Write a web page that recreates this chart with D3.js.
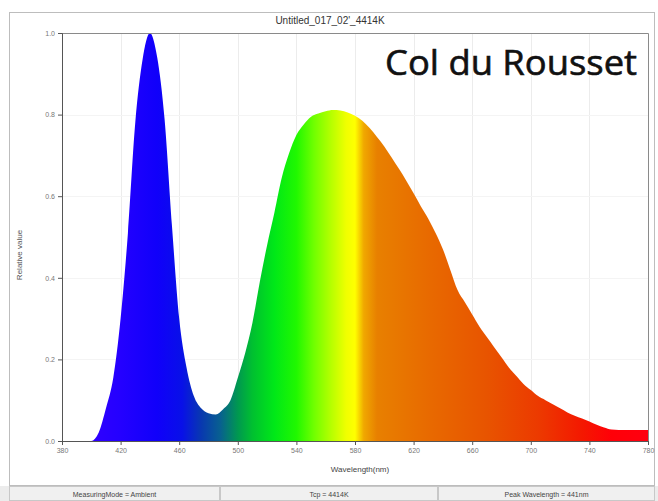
<!DOCTYPE html>
<html>
<head>
<meta charset="utf-8">
<style>
  body { margin: 0; background: #fff; }
  svg { display: block; }
</style>
</head>
<body>
<div id="graphic"></div>
<script src="https://d3js.org/d3.v7.min.js"></script>
<script>
// spectrum, 5 nm steps
var wavelengths = d3.range(380, 781, 5);
var relValues = [
  0, 0, 0, 0, 0, 0.02, 0.08, 0.155, 0.30, 0.51,             // 380-425
  0.78, 0.935, 1.0, 0.94, 0.79, 0.53, 0.30, 0.18, 0.11, 0.08, // 430-475
  0.068, 0.065, 0.078, 0.10, 0.155, 0.215, 0.29, 0.39, 0.48, 0.56, // 480-525
  0.645, 0.705, 0.75, 0.776, 0.795, 0.803, 0.808, 0.811, 0.81, 0.805, // 530-575
  0.797, 0.785, 0.767, 0.745, 0.722, 0.695, 0.667, 0.638, 0.607, 0.575, // 580-625
  0.545, 0.51, 0.47, 0.42, 0.37, 0.34, 0.31, 0.28, 0.255, 0.23, // 630-675
  0.205, 0.18, 0.16, 0.14, 0.125, 0.11, 0.10, 0.09, 0.08, 0.07, // 680-725
  0.062, 0.055, 0.048, 0.04, 0.033, 0.028, 0.027, 0.027, 0.027, 0.027, // 730-775
  0.027 // 780
];
var xTicks = [380, 420, 460, 500, 540, 580, 620, 660, 700, 740, 780];
var yTicks = [0, 0.2, 0.4, 0.6, 0.8, 1.0];
var statusTexts = ["MeasuringMode = Ambient", "Tcp = 4414K", "Peak Wavelength = 441nm"];

// colour under the curve by wavelength
var colorStops = [
  [380, "#3c00ff"], [420, "#2400ff"], [445, "#1000fa"], [462, "#0810e8"],
  [475, "#0838b0"], [488, "#086090"], [500, "#009850"], [510, "#00c030"],
  [525, "#00e818"], [540, "#20f800"], [552, "#70ff00"], [564, "#b8ff00"],
  [574, "#f0ff00"], [580, "#ffff00"], [586, "#f0a800"], [595, "#e88000"],
  [630, "#e86a00"], [670, "#e85400"], [705, "#ec3a00"], [735, "#f41800"],
  [755, "#ff0008"], [780, "#ff0010"]
];

var W = 658, H = 501;

var svg = d3.select("#graphic").append("svg")
  .attr("width", W).attr("height", H)
  .style("font-family", "'Liberation Sans', Arial, sans-serif");

// outer frame and title
svg.append("rect").attr("x", 9.5).attr("y", 12.5).attr("width", 645).attr("height", 473)
  .attr("fill", "#fff").attr("stroke", "#bdbdbd");
svg.append("text").attr("x", 330).attr("y", 24).attr("text-anchor", "middle")
  .attr("font-size", 10).attr("fill", "#333").text("Untitled_017_02'_4414K");

var x = d3.scaleLinear().domain([380, 780]).range([62, 648]);
var y = d3.scaleLinear().domain([0, 1]).range([441, 33]);

var data = wavelengths.map(function (w, i) { return { w: w, v: relValues[i] }; });

// faint grid
var grid = svg.append("g").attr("stroke", "#ececec").attr("stroke-width", 1);
grid.selectAll(".vg").data(xTicks.slice(1, -1)).enter().append("line")
  .attr("x1", function (d) { return Math.round(x(d)) + 0.5; })
  .attr("x2", function (d) { return Math.round(x(d)) + 0.5; })
  .attr("y1", y(1)).attr("y2", y(0));
grid.selectAll(".hg").data(yTicks.slice(1, -1)).enter().append("line")
  .attr("y1", function (d) { return Math.round(y(d)) + 0.5; })
  .attr("y2", function (d) { return Math.round(y(d)) + 0.5; })
  .attr("x1", x(380)).attr("x2", x(780)).attr("stroke", "#f4f4f4");

// gradient fill
var grad = svg.append("defs").append("linearGradient")
  .attr("id", "spec").attr("gradientUnits", "userSpaceOnUse")
  .attr("x1", x(380)).attr("x2", x(780)).attr("y1", 0).attr("y2", 0);
grad.selectAll("stop").data(colorStops).enter().append("stop")
  .attr("offset", function (d) { return (d[0] - 380) / 400; })
  .attr("stop-color", function (d) { return d[1]; });

var area = d3.area()
  .x(function (d) { return x(d.w); })
  .y0(y(0))
  .y1(function (d) { return y(d.v); })
  .curve(d3.curveMonotoneX);

svg.append("path").datum(data).attr("d", area).attr("fill", "url(#spec)");

// plot border top / right
svg.append("path")
  .attr("d", "M" + x(380) + "," + (y(1) + 0.5) + "H" + (x(780) + 0.5) + "V" + y(0))
  .attr("fill", "none").attr("stroke", "#8a8a8a");

// axes
var xAxis = d3.axisBottom(x).tickValues(xTicks).tickSize(4).tickFormat(d3.format("d"));
var gx = svg.append("g").attr("transform", "translate(0," + y(0) + ")").call(xAxis);
var yAxis = d3.axisLeft(y).tickValues(yTicks).tickSize(4).tickFormat(d3.format(".1f"));
var gy = svg.append("g").attr("transform", "translate(" + x(380) + ",0)").call(yAxis);
[gx, gy].forEach(function (g) {
  g.select(".domain").attr("stroke", "#555");
  g.selectAll(".tick line").attr("stroke", "#555");
  g.selectAll(".tick text").attr("fill", "#777").attr("font-size", 7)
    .style("font-family", "'Liberation Sans', Arial, sans-serif");
});

svg.append("text").attr("x", 360).attr("y", 472).attr("text-anchor", "middle")
  .attr("font-size", 8).attr("fill", "#444").text("Wavelength(nm)");
svg.append("text").attr("transform", "translate(22,255) rotate(-90)")
  .attr("text-anchor", "middle").attr("font-size", 8).attr("fill", "#555").text("Relative value");

// big overlay label
svg.append("text").attr("x", 637).attr("y", 75).attr("text-anchor", "end")
  .attr("font-size", 35).attr("fill", "#111")
  .attr("stroke", "#111").attr("stroke-width", 0.6)
  .style("font-family", "'Open Sans', Lato, sans-serif")
  .attr("textLength", 252).attr("lengthAdjust", "spacingAndGlyphs")
  .text("Col du Rousset");

// status bar
var cells = [[9, 220], [220, 438], [438, 655]];
var sb = svg.append("g");
sb.append("rect").attr("x", 0).attr("y", 486).attr("width", W).attr("height", 15).attr("fill", "#ececec");
sb.selectAll("rect.cell").data(cells).enter().append("rect").attr("class", "cell")
  .attr("x", function (d) { return d[0] + 0.5; }).attr("y", 486.5)
  .attr("width", function (d) { return d[1] - d[0] - 1; }).attr("height", 14)
  .attr("fill", "#f0f0f0").attr("stroke", "#c8c8c8");
sb.selectAll("text").data(statusTexts).enter().append("text")
  .attr("x", function (d, i) { return (cells[i][0] + cells[i][1]) / 2; })
  .attr("y", 497).attr("text-anchor", "middle").attr("font-size", 7).attr("fill", "#444")
  .text(function (d) { return d; });
</script>
</body>
</html>
